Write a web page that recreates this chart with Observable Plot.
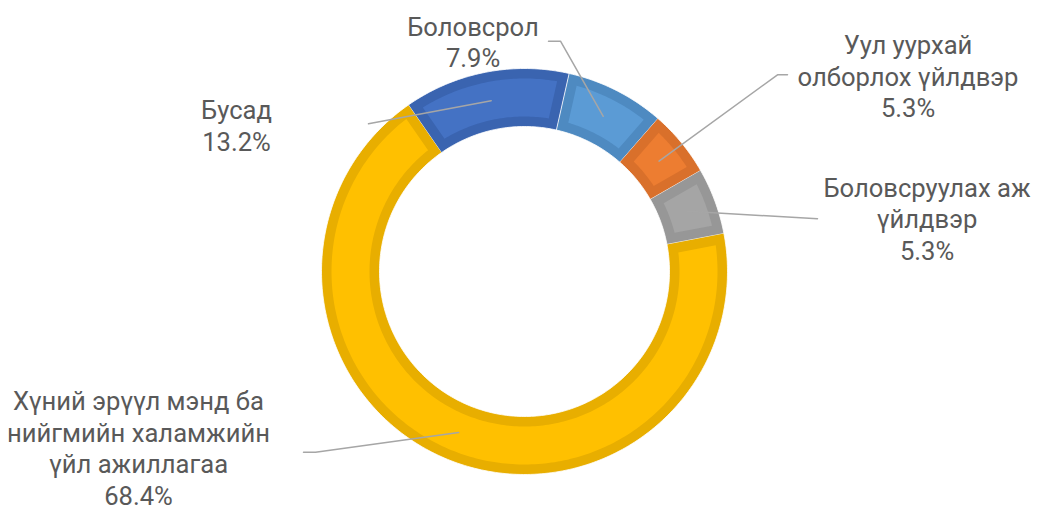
<!DOCTYPE html>
<html><head><meta charset="utf-8">
<script src="https://cdn.jsdelivr.net/npm/d3@7"></script>
<script src="https://cdn.jsdelivr.net/npm/@observablehq/plot@0.6"></script>
<style>html,body{margin:0;padding:0;background:#fff;overflow:hidden}</style>
</head><body><div id="chart"></div>
<script>
// ---- data ----
const categories = ["Боловсрол", "Уул уурхай олборлох үйлдвэр", "Боловсруулах аж үйлдвэр", "Хүний эрүүл мэнд ба нийгмийн халамжийн үйл ажиллагаа", "Бусад"];
const labelLines = ["Боловсрол", "Уул уурхай\nолборлох үйлдвэр", "Боловсруулах аж\nүйлдвэр", "Хүний эрүүл мэнд ба\nнийгмийн халамжийн\nүйл ажиллагаа", "Бусад"];
const values = [7.9, 5.3, 5.3, 68.4, 13.2];

// ---- styles ----
const fillColors = ["#5B9BD5", "#ED7D31", "#A5A5A5", "#FFC000", "#4472C4"];
const edgeColors = ["#4E8AC1", "#D9702B", "#979797", "#E8AE00", "#3A64B0"];

// ---- layout ----
const W = 1042, H = 510;
const cx = 524, cy = 271, R = 203, r0 = 145, band = 10, startDeg = 12.7;
// label anchor (center x, baseline of last line) and leader-line outer points
const labelLayout = [
  {tx: 472.5, ty: 66.7, lead: [[548, 40.7], [560, 40.7]]},
  {tx: 907.5, ty: 116.7, lead: [[787, 74.3], [777, 74.3]]},
  {tx: 926.5, ty: 259, lead: [[817, 218.3]]},
  {tx: 138, ty: 504, lead: [[303, 451.7], [315, 451.7]]},
  {tx: 236, ty: 150, lead: [[368, 123.3]]}
];

const total = d3.sum(values);
const rad = Math.PI / 180;
const slices = [];
let acc = startDeg * rad;
values.forEach((v, i) => {
  const a0 = acc, a1 = acc + (v / total) * 2 * Math.PI;
  slices.push({i, a0, a1});
  acc = a1;
});
const px = (a, r) => cx + r * Math.sin(a);
const py = (a, r) => cy - r * Math.cos(a);

function ringPoints(s, rin, rout, inset, key, color) {
  const pts = [];
  const n = Math.max(8, Math.ceil((s.a1 - s.a0) / rad));
  const oa0 = s.a0 + Math.asin(inset / rout), oa1 = s.a1 - Math.asin(inset / rout);
  const ia0 = s.a0 + Math.asin(inset / rin), ia1 = s.a1 - Math.asin(inset / rin);
  for (let k = 0; k <= n; k++) { const a = oa0 + (oa1 - oa0) * k / n; pts.push({key, color, x: px(a, rout), y: py(a, rout)}); }
  for (let k = n; k >= 0; k--) { const a = ia0 + (ia1 - ia0) * k / n; pts.push({key, color, x: px(a, rin), y: py(a, rin)}); }
  return pts;
}

const outerPts = slices.flatMap(s => ringPoints(s, r0, R, 0, "o" + s.i, edgeColors[s.i]));
const innerPts = slices.flatMap(s => ringPoints(s, r0 + band, R - band, band, "i" + s.i, fillColors[s.i]));

const labels = slices.map(s => ({
  x: labelLayout[s.i].tx,
  y: labelLayout[s.i].ty,
  text: labelLines[s.i] + "\n" + values[s.i].toFixed(1) + "%"
}));
const leaders = slices.flatMap(s => {
  const am = (s.a0 + s.a1) / 2, rm = (R + r0) / 2;
  const pts = labelLayout[s.i].lead.map(([x, y]) => ({key: s.i, x, y}));
  pts.push({key: s.i, x: px(am, rm), y: py(am, rm)});
  return pts;
});

const chart = Plot.plot({
  width: W, height: H,
  margin: 0,
  x: {domain: [0, W], range: [0, W], axis: null},
  y: {domain: [0, H], range: [0, H], axis: null},
  color: {type: "identity"},
  style: {fontFamily: "Roboto, sans-serif", background: "#fff"},
  marks: [
    Plot.line(outerPts, {x: "x", y: "y", z: "key", fill: "color", stroke: "#fff", strokeWidth: 0.8, curve: "linear"}),
    Plot.line(innerPts, {x: "x", y: "y", z: "key", fill: "color", stroke: "none", curve: "linear"}),
    Plot.line(leaders, {x: "x", y: "y", z: "key", stroke: "#A6A6A6", strokeWidth: 1.5, curve: "linear"}),
    Plot.text(labels, {x: "x", y: "y", text: "text", textAnchor: "middle", lineAnchor: "bottom", lineHeight: 1.23, fontSize: 25.6, fill: "#595959", fontFamily: "Roboto, sans-serif"})
  ]
});
document.getElementById("chart").appendChild(chart);
</script>
</body></html>
